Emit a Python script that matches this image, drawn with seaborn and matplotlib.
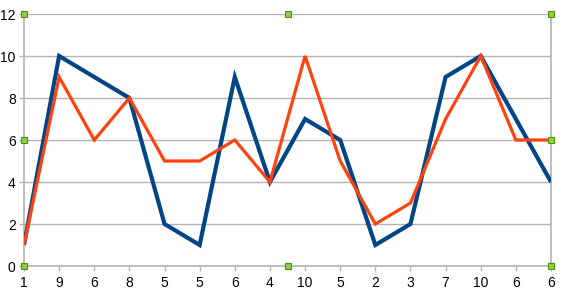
import matplotlib
matplotlib.use("Agg")
import matplotlib.pyplot as plt
import seaborn as sns
import pandas as pd
import numpy as np

categories = ["1", "9", "6", "8", "5", "5", "6", "4", "10", "5", "2", "3", "7", "10", "6", "6"]
series_blue = [1, 10, 9, 8, 2, 1, 9, 4, 7, 6, 1, 2, 9, 10, 7, 4]
series_orange = [1, 9, 6, 8, 5, 5, 6, 4, 10, 5, 2, 3, 7, 10, 6, 6]
y_ticks = [0, 2, 4, 6, 8, 10, 12]

sns.set_theme(style="white")
plt.rcParams['font.family'] = ['Liberation Sans', 'DejaVu Sans']

df = pd.DataFrame({
    "pos": list(range(len(categories))) * 2,
    "value": series_blue + series_orange,
    "series": ["blue"] * len(categories) + ["orange"] * len(categories),
})

fig = plt.figure(figsize=(5.62, 2.95), dpi=100)
ax = fig.add_axes([24/562, 1-266/295, 527/562, 252/295])

sns.lineplot(data=df, x="pos", y="value", hue="series",
             palette={"blue": "#004586", "orange": "#ff420e"},
             ax=ax, legend=False, estimator=None, sort=False)
for line, lw in zip(ax.lines, [3.0, 2.3]):
    line.set_linewidth(lw)
    line.set_solid_joinstyle("miter")
    line.set_solid_capstyle("butt")
ax.lines[0].set_zorder(3)
ax.lines[1].set_zorder(4)

ax.set_xlim(0, len(categories) - 1)
ax.set_ylim(0, 12)
ax.set_yticks(y_ticks)
ax.set_yticklabels([str(t) for t in y_ticks])
ax.set_xticks(range(len(categories)))
ax.set_xticklabels(categories)
ax.set_xlabel("")
ax.set_ylabel("")
ax.grid(axis="y", color="#b3b3b3", linewidth=1.0)
ax.set_axisbelow(True)
for s in ["top"]:
    ax.spines[s].set_visible(False)
for s in ["left", "right", "bottom"]:
    ax.spines[s].set_color("#b3b3b3")
    ax.spines[s].set_linewidth(1.2)
ax.tick_params(axis="x", length=3.5, width=1, color="#b3b3b3", pad=3.5, labelsize=10, labelcolor="black", bottom=True)
ax.tick_params(axis="y", length=3.5, width=1, color="#b3b3b3", pad=2.5, labelsize=10, labelcolor="black", left=True)

# selection handles
hx = [0, 0.5, 1, 0, 1, 0, 0.5, 1]
hy = [1, 1, 1, 0.5, 0.5, 0, 0, 0]
ax.plot(hx, hy, linestyle="none", marker="s", markersize=5, markerfacecolor="#8fd14f",
        markeredgecolor="#4e8f00", markeredgewidth=0.8, transform=ax.transAxes,
        clip_on=False, zorder=6)

fig.savefig("out.png", dpi=100)
